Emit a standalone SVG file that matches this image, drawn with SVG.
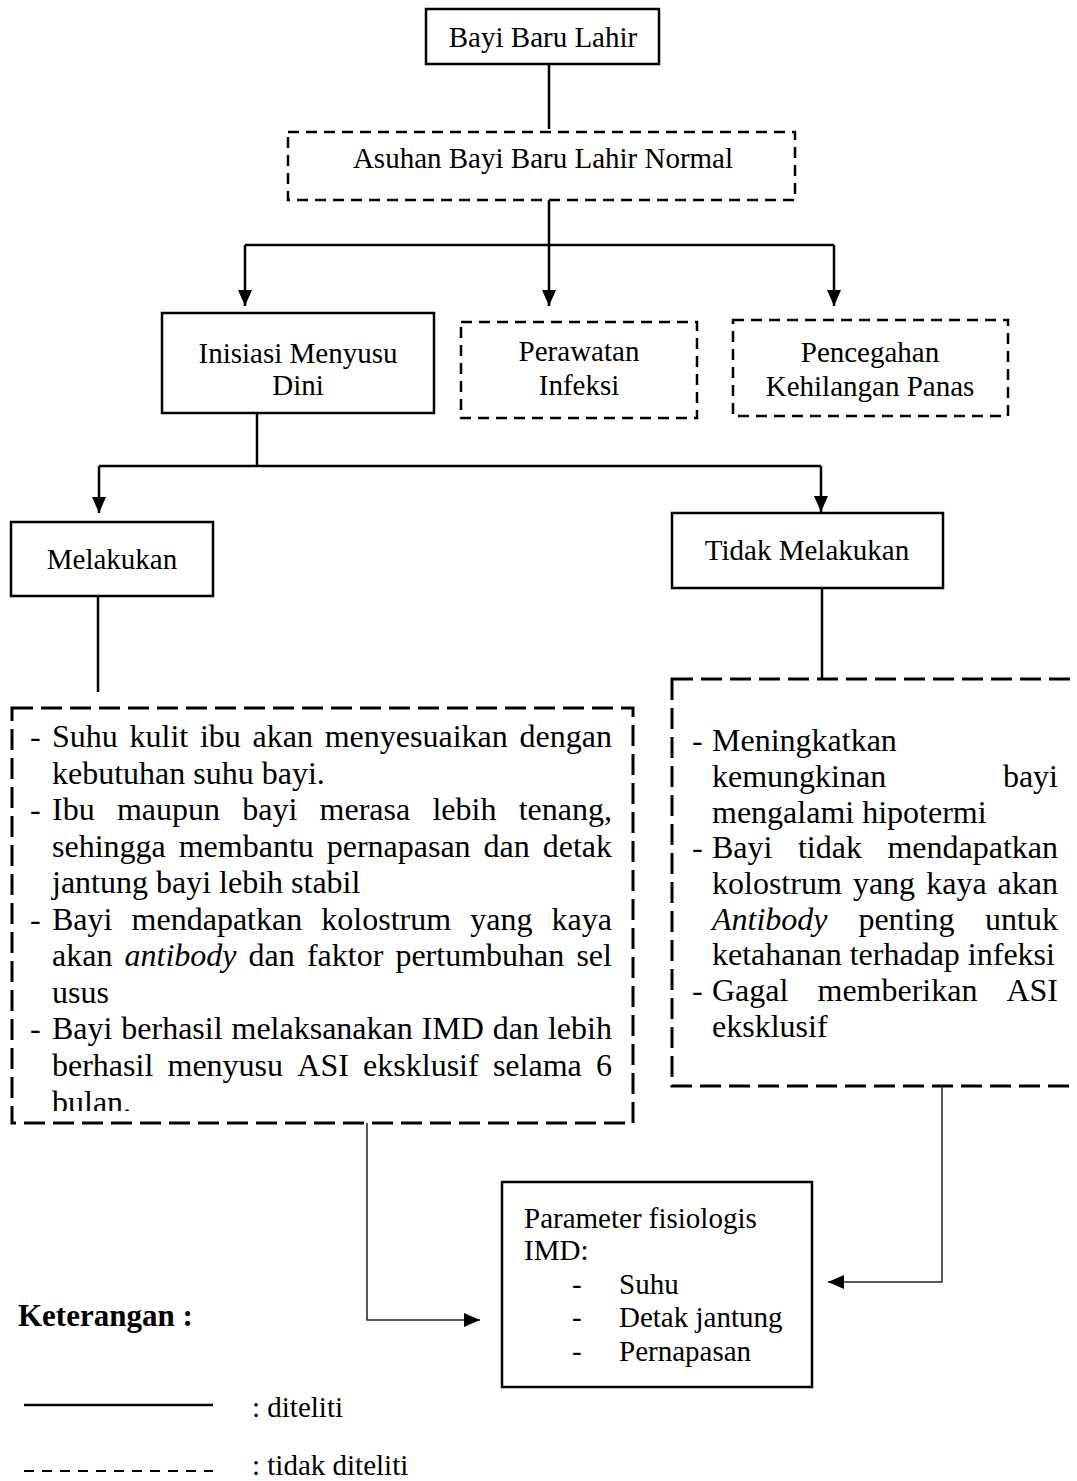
<svg xmlns="http://www.w3.org/2000/svg" width="1077" height="1481" viewBox="0 0 1077 1481">
<style>
text{font-family:"Liberation Serif","Times New Roman",serif;fill:#000}
.t29{font-size:29px}
.t32{font-size:32px}
.c{text-anchor:middle}
.e{text-anchor:end}
.solid{fill:#fff;stroke:#000;stroke-width:2.5}
.dash{fill:none;stroke:#000;stroke-width:2.5;stroke-dasharray:11 7}
.dashL{fill:none;stroke:#000;stroke-width:3;stroke-dasharray:21 8}
.conn{fill:none;stroke:#000;stroke-width:2.5}
.connT{fill:none;stroke:#222;stroke-width:1.5}
</style>
<defs>
<marker id="arr" viewBox="0 0 16 14" refX="16" refY="7" markerWidth="16" markerHeight="14" markerUnits="userSpaceOnUse" orient="auto">
<path d="M0,0 L16,7 L0,14 z" fill="#000"/>
</marker>
<clipPath id="clipL"><rect x="0" y="0" width="1077" height="1111"/></clipPath>
</defs>
<rect width="1077" height="1481" fill="#fff"/>

<g id="connectors">
<path class="conn" d="M549,64 V129"/>
<path class="conn" d="M549,200 V245"/>
<path class="conn" d="M245,245 H834"/>
<path class="conn" d="M245,245 V306" marker-end="url(#arr)"/>
<path class="conn" d="M549,245 V306" marker-end="url(#arr)"/>
<path class="conn" d="M834,245 V306" marker-end="url(#arr)"/>
<path class="conn" d="M257,413 V466"/>
<path class="conn" d="M99,466 H821"/>
<path class="conn" d="M99,466 V513" marker-end="url(#arr)"/>
<path class="conn" d="M821,466 V512" marker-end="url(#arr)"/>
<path class="conn" d="M98,596 V692"/>
<path class="conn" d="M822,588 V679"/>
<path class="connT" d="M367,1123 V1320 H480" marker-end="url(#arr)"/>
<path class="connT" d="M942,1086 V1282 H828" marker-end="url(#arr)"/>
</g>

<g id="bayi-baru-lahir">
<rect class="solid" x="426" y="9" width="233" height="55"/>
<text class="t29 c" x="543" y="47">Bayi Baru Lahir</text>
</g>

<g id="asuhan">
<rect class="dash" x="288" y="132" width="507" height="68"/>
<text class="t29 c" x="543" y="168">Asuhan Bayi Baru Lahir Normal</text>
</g>

<g id="imd">
<rect class="solid" x="162" y="313" width="272" height="100"/>
<text class="t29 c" x="298" y="363">Inisiasi Menyusu</text>
<text class="t29 c" x="298" y="395">Dini</text>
</g>

<g id="perawatan">
<rect class="dash" x="461" y="322" width="236" height="96"/>
<text class="t29 c" x="579" y="361">Perawatan</text>
<text class="t29 c" x="579" y="395">Infeksi</text>
</g>

<g id="pencegahan">
<rect class="dash" x="733" y="320" width="275" height="96"/>
<text class="t29 c" x="870" y="362">Pencegahan</text>
<text class="t29 c" x="870" y="396">Kehilangan Panas</text>
</g>

<g id="melakukan">
<rect class="solid" x="11" y="522" width="202" height="74"/>
<text class="t29 c" x="112" y="569">Melakukan</text>
</g>

<g id="tidak-melakukan">
<rect class="solid" x="672" y="513" width="271" height="75"/>
<text class="t29 c" x="807" y="560">Tidak Melakukan</text>
</g>

<g id="efek-melakukan">
<rect class="dashL" x="12" y="708" width="621" height="415"/>
<g class="t32">
<text x="30" y="747">-</text>
<text y="747"><tspan x="52">Suhu</tspan><tspan x="129.5">kulit</tspan><tspan x="199.9">ibu</tspan><tspan x="252.6">akan</tspan><tspan x="324.7">menyesuaikan</tspan><tspan x="519.6">dengan</tspan></text>
<text x="52" y="783.5">kebutuhan suhu bayi.</text>
<text x="30" y="820">-</text>
<text y="820"><tspan x="52">Ibu</tspan><tspan x="116.9">maupun</tspan><tspan x="242.2">bayi</tspan><tspan x="319.6">merasa</tspan><tspan x="432.4">lebih</tspan><tspan x="518.7">tenang,</tspan></text>
<text y="856.5"><tspan x="52">sehingga</tspan><tspan x="178.7">membantu</tspan><tspan x="326.7">pernapasan</tspan><tspan x="483.5">dan</tspan><tspan x="542.7">detak</tspan></text>
<text x="52" y="893">jantung bayi lebih stabil</text>
<text x="30" y="929.5">-</text>
<text y="929.5"><tspan x="52">Bayi</tspan><tspan x="131.6">mendapatkan</tspan><tspan x="321.3">kolostrum</tspan><tspan x="470.2">yang</tspan><tspan x="551.6">kaya</tspan></text>
<text y="966"><tspan x="52">akan</tspan><tspan x="124.5" font-style="italic">antibody</tspan><tspan x="248.6">dan</tspan><tspan x="306.9">faktor</tspan><tspan x="395.4">pertumbuhan</tspan><tspan x="576.4">sel</tspan></text>
<text x="52" y="1002.5">usus</text>
<text x="30" y="1039">-</text>
<text y="1039"><tspan x="52">Bayi</tspan><tspan x="121.3">berhasil</tspan><tspan x="231.5">melaksanakan</tspan><tspan x="421.7">IMD</tspan><tspan x="492.8">dan</tspan><tspan x="547.9">lebih</tspan></text>
<text y="1075.5"><tspan x="52">berhasil</tspan><tspan x="167.5">menyusu</tspan><tspan x="297.3">ASI</tspan><tspan x="363.1">eksklusif</tspan><tspan x="492.9">selama</tspan><tspan x="596">6</tspan></text>
<text x="52" y="1113" clip-path="url(#clipL)">bulan.</text>
</g>
</g>

<g id="efek-tidak-melakukan">
<rect class="dashL" x="672" y="679" width="430" height="407"/>
<g class="t32">
<text x="692" y="751">-</text>
<text x="712" y="751">Meningkatkan</text>
<text x="712" y="787">kemungkinan</text>
<text class="e" x="1058" y="787">bayi</text>
<text x="712" y="823">mengalami hipotermi</text>
<text x="692" y="858">-</text>
<text y="858"><tspan x="712">Bayi</tspan><tspan x="797.9">tidak</tspan></text>
<text class="e" x="1058" y="858">mendapatkan</text>
<text y="894"><tspan x="712">kolostrum</tspan><tspan x="852.9">yang</tspan><tspan x="926.2">kaya</tspan></text>
<text class="e" x="1058" y="894">akan</text>
<text y="930"><tspan x="712" font-style="italic">Antibody</tspan><tspan x="858.4">penting</tspan></text>
<text class="e" x="1058" y="930">untuk</text>
<text x="712" y="965">ketahanan terhadap infeksi</text>
<text x="692" y="1001">-</text>
<text y="1001"><tspan x="712">Gagal</tspan><tspan x="817.5">memberikan</tspan></text>
<text class="e" x="1058" y="1001">ASI</text>
<text x="712" y="1037">eksklusif</text>
</g>
</g>

<g id="parameter">
<rect class="solid" x="502" y="1182" width="310" height="205"/>
<g class="t29">
<text x="524" y="1228">Parameter fisiologis</text>
<text x="524" y="1260">IMD:</text>
<text x="572" y="1294">-</text>
<text x="619" y="1294">Suhu</text>
<text x="572" y="1327">-</text>
<text x="619" y="1327">Detak jantung</text>
<text x="572" y="1361">-</text>
<text x="619" y="1361">Pernapasan</text>
</g>
</g>

<g id="legend">
<text x="18" y="1326" font-size="31" font-weight="bold">Keterangan :</text>
<path d="M24,1405 H213" stroke="#000" stroke-width="2.5" fill="none"/>
<text class="t29" x="252" y="1417">: diteliti</text>
<path d="M24,1471 H213" stroke="#000" stroke-width="2" stroke-dasharray="10 8" fill="none"/>
<text class="t29" x="252" y="1475">: tidak diteliti</text>
</g>
</svg>
